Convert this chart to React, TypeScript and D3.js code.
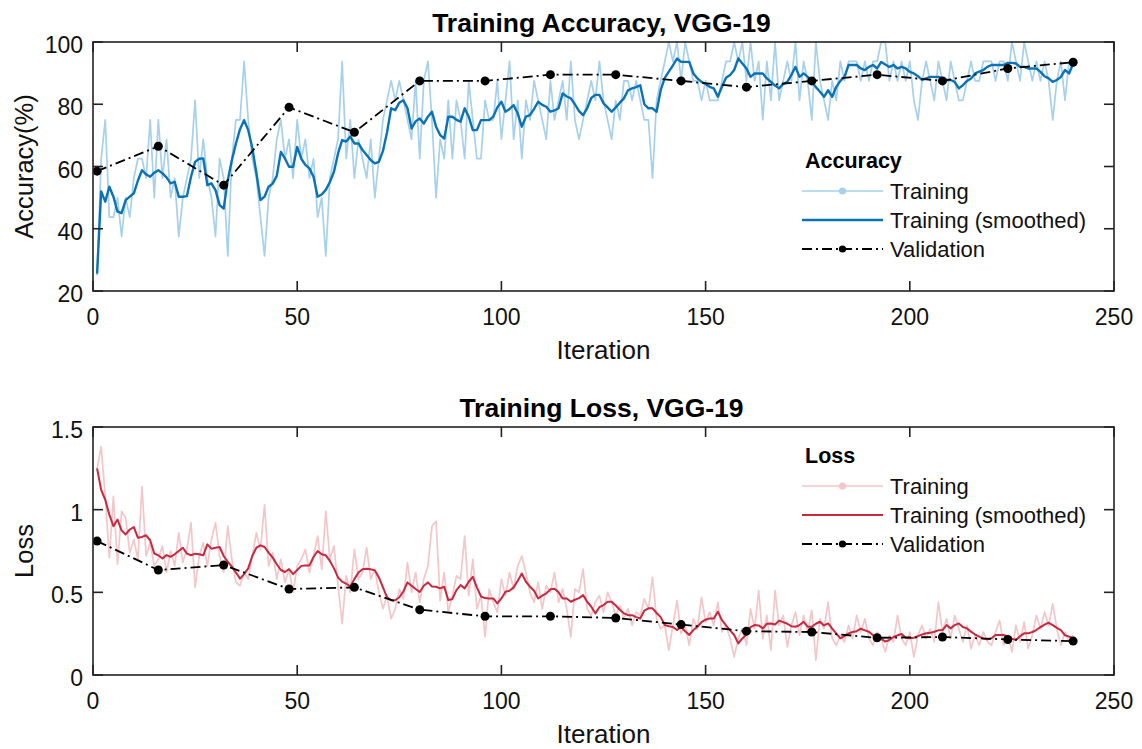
import React from "react";
import * as d3 from "d3";

// ---------- DATA ----------
const xTicks = [0, 50, 100, 150, 200, 250];
const accTicks = [20, 40, 60, 80, 100];
const lossTicks = [0, 0.5, 1, 1.5];
const lossTickLabels = ["0", "0.5", "1", "1.5"];

const validationIters = [1, 16, 32, 48, 64, 80, 96, 112, 128, 144, 160, 176, 192, 208, 224, 240];
const accValidation = [58.5, 66.5, 54, 79, 71, 87.5, 87.5, 89.5, 89.5, 87.5, 85.5, 87.5, 89.5, 87.5, 91.5, 93.5];
const lossValidation = [0.81, 0.635, 0.665, 0.52, 0.53, 0.395, 0.355, 0.355, 0.345, 0.305, 0.265, 0.26, 0.225, 0.23, 0.215, 0.205];

// training accuracy (raw), iterations 1..240
const accTraining = [
  25, 62.5, 75, 43.75, 43.75, 50, 37.5, 50, 43.75, 56.25,
  62.5, 62.5, 56.25, 75, 50, 75, 56.25, 68.75, 50, 56.25,
  37.5, 50, 56.25, 62.5, 81.25, 56.25, 68.75, 56.25, 50, 37.5,
  62.5, 56.25, 31.25, 62.5, 75, 75, 93.75, 75, 62.5, 56.25,
  43.75, 31.25, 50, 56.25, 68.75, 75, 62.5, 68.75, 56.25, 75,
  62.5, 68.75, 56.25, 62.5, 43.75, 50, 31.25, 56.25, 62.5, 68.75,
  93.75, 62.5, 75, 56.25, 68.75, 62.5, 56.25, 68.75, 50, 62.5,
  75, 81.25, 87.5, 81.25, 87.5, 81.25, 75, 68.75, 87.5, 62.5,
  87.5, 93.75, 75, 50, 68.75, 62.5, 81.25, 62.5, 81.25, 75,
  62.5, 87.5, 75, 62.5, 62.5, 81.25, 75, 75, 87.5, 68.75,
  81.25, 93.75, 68.75, 81.25, 62.5, 81.25, 75, 87.5, 81.25, 75,
  68.75, 87.5, 75, 81.25, 87.5, 75, 93.75, 75, 68.75, 75,
  81.25, 87.5, 81.25, 93.75, 81.25, 75, 68.75, 81.25, 75, 87.5,
  87.5, 81.25, 87.5, 81.25, 75, 75, 56.25, 81.25, 87.5, 93.75,
  100, 93.75, 100, 87.5, 100, 93.75, 87.5, 87.5, 81.25, 87.5,
  81.25, 81.25, 81.25, 87.5, 93.75, 93.75, 100, 93.75, 100, 87.5,
  100, 87.5, 93.75, 75, 93.75, 81.25, 100, 81.25, 87.5, 93.75,
  87.5, 100, 81.25, 93.75, 87.5, 75, 100, 87.5, 81.25, 75,
  87.5, 81.25, 93.75, 87.5, 93.75, 93.75, 93.75, 87.5, 93.75, 87.5,
  93.75, 93.75, 100, 100, 87.5, 93.75, 87.5, 93.75, 87.5, 93.75,
  81.25, 75, 87.5, 93.75, 87.5, 81.25, 93.75, 87.5, 81.25, 93.75,
  87.5, 81.25, 81.25, 87.5, 93.75, 87.5, 87.5, 93.75, 93.75, 93.75,
  87.5, 93.75, 93.75, 87.5, 100, 93.75, 87.5, 100, 93.75, 87.5,
  93.75, 87.5, 93.75, 87.5, 75, 87.5, 93.75, 81.25, 93.75, 93.75,
];

// training accuracy (smoothed), iterations 1..240
const accSmoothed = [
  25.6, 52, 48.7, 53.5, 50.3, 45.5, 45, 49.2, 50.3, 51.4,
  55.5, 58.8, 57.5, 56.7, 58, 58.8, 57.8, 56.5, 54.6, 55.1,
  50.3, 50.3, 50.5, 56.7, 61.5, 62.5, 62.6, 54, 54.6, 52.4,
  47.6, 46.5, 55.6, 62, 67.4, 72, 74.9, 71.7, 66, 58,
  49.2, 50.3, 53.5, 54.5, 57, 64.7, 62.6, 59.9, 59.9, 66.3,
  62.5, 60.5, 59.4, 56.7, 50.3, 51, 52.5, 55, 58.3, 64.2,
  68.5, 68, 69.6, 67.4, 67.4, 65.3, 63.7, 62.1, 61, 61.5,
  65, 71, 78.7, 78.1, 80.5, 81.3, 78.7, 72.2, 74.5, 75.4,
  73.8, 76, 77.6, 72.8, 70.1, 69, 76, 76, 75, 74.4,
  78.7, 76, 71.7, 71.7, 74.9, 74.9, 74.9, 76, 79, 80.8,
  77.6, 78.5, 79.7, 77, 72.8, 76, 76.5, 78.5, 80.8, 79.8,
  79.2, 77.6, 78, 78.7, 83.5, 82.5, 81.9, 80, 77.8, 76.5,
  78.7, 82, 83, 83, 80.3, 79, 77.6, 79, 80.5, 81.9,
  84.5, 85.1, 85.5, 86.1, 80, 78.7, 78.7, 77.6, 84.5, 88.5,
  90.5, 92.5, 94.7, 93.6, 93.6, 93.6, 89.9, 88.3, 87.2, 86.5,
  85.6, 85.1, 82.4, 85.6, 88.5, 89.4, 91, 94.7, 93.1, 91.5,
  88.8, 89.9, 89.9, 89.9, 88.3, 87.2, 86, 85.1, 86.5, 87.2,
  89.4, 92, 88.8, 89.9, 88.8, 87.2, 85.5, 84, 82.4, 84.5,
  82.4, 85.6, 87.5, 88.8, 92.6, 92.6, 92.6, 91.5, 91, 92,
  92.6, 91.5, 93.6, 92.8, 92, 92.6, 91.5, 92, 91.5, 90.4,
  89.9, 89, 87.8, 88.3, 88.8, 88.8, 88.8, 88.3, 87.8, 87.8,
  87.2, 85.1, 86.1, 87.5, 88.3, 89.9, 90.5, 91, 92, 92.6,
  92.6, 92.6, 92.6, 93.3, 93.3, 93.1, 92, 92, 91.5, 91.5,
  91.5, 90.4, 89, 88.3, 87.2, 87.8, 88.8, 91, 89.9, 93.1,
];

// training loss (raw), iterations 1..240
const lossTraining = [
  1.25, 1.38, 1.08, 0.71, 1.08, 0.67, 0.99, 0.95, 0.74, 0.82,
  0.7, 1.14, 0.72, 0.8, 0.66, 0.7, 0.78, 0.62, 0.75, 0.66,
  0.86, 0.68, 0.76, 0.92, 0.53, 0.72, 0.8, 0.66, 0.82, 0.92,
  0.72, 0.62, 0.9, 0.7, 0.56, 0.54, 0.62, 0.58, 0.72, 0.86,
  0.76, 1.03, 0.66, 0.74, 0.58, 0.7, 0.56, 0.64, 0.5, 0.66,
  0.7, 0.76, 0.62, 0.72, 0.84, 0.64, 0.99, 0.7, 0.78, 0.54,
  0.31, 0.6, 0.5, 0.76, 0.58, 0.62, 0.77, 0.58, 0.64, 0.5,
  0.4, 0.48, 0.34, 0.4, 0.52, 0.46, 0.68, 0.5, 0.62, 0.44,
  0.58, 0.66, 0.9, 0.93, 0.45, 0.62, 0.38, 0.48, 0.6, 0.58,
  0.84, 0.48, 0.7, 0.4, 0.48, 0.23, 0.52, 0.44, 0.38, 0.58,
  0.48, 0.62, 0.52, 0.66, 0.72, 0.62, 0.5, 0.44, 0.56, 0.4,
  0.54, 0.5, 0.62, 0.44, 0.52, 0.4, 0.23, 0.52, 0.5, 0.64,
  0.4, 0.36, 0.44, 0.48, 0.38, 0.5, 0.44, 0.36, 0.42, 0.34,
  0.4, 0.3, 0.38, 0.36, 0.46, 0.4, 0.59, 0.34, 0.28, 0.3,
  0.15, 0.3, 0.45, 0.25, 0.3, 0.18, 0.34, 0.28, 0.47, 0.32,
  0.38, 0.3, 0.44, 0.26, 0.3, 0.22, 0.11, 0.22, 0.28, 0.18,
  0.4, 0.28, 0.51, 0.22, 0.36, 0.15, 0.51, 0.3, 0.36, 0.17,
  0.3, 0.38, 0.24, 0.36, 0.26, 0.39, 0.09, 0.34, 0.28, 0.44,
  0.22, 0.18, 0.24, 0.2, 0.3, 0.22, 0.36, 0.26, 0.34, 0.22,
  0.18, 0.26, 0.22, 0.14, 0.24, 0.2, 0.36, 0.22, 0.18, 0.26,
  0.11, 0.24, 0.3, 0.22, 0.28, 0.2, 0.44, 0.26, 0.34, 0.22,
  0.36, 0.28, 0.2, 0.3, 0.16, 0.24, 0.18, 0.26, 0.2, 0.18,
  0.26, 0.33, 0.18, 0.24, 0.14, 0.3, 0.2, 0.32, 0.16, 0.24,
  0.36, 0.28, 0.38, 0.3, 0.43, 0.28, 0.18, 0.26, 0.2, 0.24,
];

// training loss (smoothed), iterations 1..240
const lossSmoothed = [
  1.25, 1.12, 1.06, 0.97, 0.9, 0.94, 0.875, 0.85, 0.88, 0.895,
  0.83, 0.835, 0.845, 0.815, 0.735, 0.724, 0.705, 0.725, 0.715, 0.73,
  0.75, 0.77, 0.734, 0.724, 0.734, 0.73, 0.724, 0.79, 0.764, 0.77,
  0.774, 0.72, 0.685, 0.655, 0.62, 0.583, 0.61, 0.645, 0.72, 0.77,
  0.784, 0.774, 0.74, 0.71, 0.67, 0.635, 0.623, 0.64, 0.61, 0.635,
  0.66, 0.663, 0.663, 0.714, 0.75, 0.73, 0.724, 0.69, 0.645, 0.59,
  0.565, 0.552, 0.535, 0.58, 0.62, 0.64, 0.643, 0.64, 0.633, 0.59,
  0.53, 0.47, 0.452, 0.452, 0.47, 0.505, 0.56, 0.54, 0.52, 0.502,
  0.54, 0.56, 0.535, 0.534, 0.524, 0.534, 0.453, 0.46, 0.514, 0.544,
  0.524, 0.564, 0.594, 0.53, 0.475, 0.465, 0.463, 0.463, 0.433, 0.463,
  0.504, 0.51, 0.53, 0.57, 0.614, 0.564, 0.534, 0.51, 0.463, 0.48,
  0.494, 0.518, 0.522, 0.5, 0.463, 0.463, 0.443, 0.455, 0.465, 0.483,
  0.443, 0.413, 0.373, 0.41, 0.423, 0.443, 0.443, 0.42, 0.395, 0.373,
  0.362, 0.362, 0.35, 0.342, 0.39, 0.403, 0.403, 0.375, 0.35, 0.302,
  0.295, 0.29, 0.272, 0.29, 0.265, 0.242, 0.272, 0.292, 0.32, 0.335,
  0.342, 0.342, 0.383, 0.332, 0.3, 0.27, 0.242, 0.191, 0.221, 0.245,
  0.29, 0.302, 0.3, 0.282, 0.31, 0.312, 0.305, 0.329, 0.32, 0.31,
  0.295, 0.292, 0.302, 0.322, 0.292, 0.292, 0.31, 0.322, 0.3, 0.312,
  0.28, 0.25, 0.222, 0.235, 0.252, 0.26, 0.265, 0.28, 0.27, 0.262,
  0.24, 0.228, 0.22, 0.202, 0.212, 0.23, 0.24, 0.248, 0.225, 0.222,
  0.225, 0.235, 0.245, 0.252, 0.255, 0.262, 0.27, 0.272, 0.302, 0.282,
  0.302, 0.312, 0.29, 0.282, 0.262, 0.245, 0.232, 0.22, 0.216, 0.222,
  0.242, 0.242, 0.242, 0.232, 0.22, 0.212, 0.235, 0.252, 0.252, 0.26,
  0.272, 0.29, 0.305, 0.316, 0.302, 0.285, 0.272, 0.24, 0.232, 0.222,
];

const legendLabels = ["Training", "Training (smoothed)", "Validation"];

// ---------- STYLE ----------
const FONT = "'Liberation Sans', Arial, Helvetica, sans-serif";
const AXIS_COLOR = "#222";
const VAL_DASH = "10,4,2,4";

type PanelProps = {
  top: number;
  bottom: number;
  left: number;
  right: number;
  yDomain: [number, number];
  yTicks: number[];
  yTickLabels: string[];
  title: string;
  yLabel: string;
  legendTitle: string;
  legendTop: number;
  raw: number[];
  smooth: number[];
  val: number[];
  rawColor: string;
  smoothColor: string;
  smoothWidth: number;
  clipId: string;
};

function Panel(p: PanelProps) {
  const x = d3.scaleLinear().domain([0, 250]).range([p.left, p.right]);
  const y = d3.scaleLinear().domain(p.yDomain).range([p.bottom, p.top]);
  const line = d3
    .line<number>()
    .x((_, i) => x(i + 1))
    .y((d) => y(d));
  const valLine = d3
    .line<number>()
    .x((_, i) => x(validationIters[i]))
    .y((d) => y(d));
  const tickLen = 10;
  const midY = (p.top + p.bottom) / 2;
  const lgX0 = 802;
  const lgX1 = 883;
  const lgTx = 890;
  const rows = [p.legendTop + 31, p.legendTop + 60, p.legendTop + 89];

  return (
    <g>
      <defs>
        <clipPath id={p.clipId}>
          <rect x={p.left} y={p.top - 1} width={p.right - p.left} height={p.bottom - p.top + 2} />
        </clipPath>
      </defs>
      <g clipPath={`url(#${p.clipId})`}>
        <path d={line(p.raw) || ""} fill="none" stroke={p.rawColor} strokeWidth={1.7} strokeLinejoin="round" />
        <path d={line(p.smooth) || ""} fill="none" stroke={p.smoothColor} strokeWidth={p.smoothWidth} strokeLinejoin="round" />
        <path d={valLine(p.val) || ""} fill="none" stroke="#000" strokeWidth={1.8} strokeDasharray={VAL_DASH} />
        {p.val.map((v, i) => (
          <circle key={i} cx={x(validationIters[i])} cy={y(v)} r={4.5} fill="#000" />
        ))}
      </g>
      <rect x={p.left} y={p.top} width={p.right - p.left} height={p.bottom - p.top} fill="none" stroke={AXIS_COLOR} strokeWidth={1.6} />
      {xTicks.map((t) => (
        <g key={"x" + t}>
          <line x1={x(t)} x2={x(t)} y1={p.bottom} y2={p.bottom - tickLen} stroke={AXIS_COLOR} strokeWidth={1.6} />
          <line x1={x(t)} x2={x(t)} y1={p.top} y2={p.top + tickLen} stroke={AXIS_COLOR} strokeWidth={1.6} />
          <text x={x(t)} y={p.bottom + 34} textAnchor="middle" fontSize={23} fontFamily={FONT} fill="#111">
            {t}
          </text>
        </g>
      ))}
      {p.yTicks.map((t, i) => (
        <g key={"y" + t}>
          <line x1={p.left} x2={p.left + tickLen} y1={y(t)} y2={y(t)} stroke={AXIS_COLOR} strokeWidth={1.6} />
          <line x1={p.right} x2={p.right - tickLen} y1={y(t)} y2={y(t)} stroke={AXIS_COLOR} strokeWidth={1.6} />
          <text x={p.left - 10} y={y(t) + 11} textAnchor="end" fontSize={23} fontFamily={FONT} fill="#111">
            {p.yTickLabels[i]}
          </text>
        </g>
      ))}
      <text x={(p.left + p.right) / 2} y={p.bottom + 68} textAnchor="middle" fontSize={26} fontFamily={FONT} fill="#111">
        Iteration
      </text>
      <text
        transform={`translate(${33},${midY}) rotate(-90)`}
        textAnchor="middle"
        fontSize={25.5}
        fontFamily={FONT}
        fill="#111"
      >
        {p.yLabel}
      </text>
      <text x={(p.left + p.right) / 2 - 2} y={p.top - 10} textAnchor="middle" fontSize={26.5} fontWeight="bold" fontFamily={FONT} fill="#000">
        {p.title}
      </text>
      <text x={lgX0 + 3} y={p.legendTop} fontSize={21.5} fontWeight="bold" fontFamily={FONT} fill="#000">
        {p.legendTitle}
      </text>
      <line x1={lgX0} x2={lgX1} y1={rows[0] - 8} y2={rows[0] - 8} stroke={p.rawColor} strokeWidth={1.7} />
      <circle cx={(lgX0 + lgX1) / 2} cy={rows[0] - 8} r={3.6} fill={p.rawColor} />
      <line x1={lgX0} x2={lgX1} y1={rows[1] - 8} y2={rows[1] - 8} stroke={p.smoothColor} strokeWidth={p.smoothWidth} />
      <line x1={lgX0} x2={lgX1} y1={rows[2] - 8} y2={rows[2] - 8} stroke="#000" strokeWidth={1.8} strokeDasharray={VAL_DASH} />
      <circle cx={(lgX0 + lgX1) / 2} cy={rows[2] - 8} r={3.6} fill="#000" />
      {legendLabels.map((l, i) => (
        <text key={l} x={lgTx} y={rows[i]} fontSize={22} fontFamily={FONT} fill="#111">
          {l}
        </text>
      ))}
    </g>
  );
}

export default function App() {
  return (
    <svg
      width={1142}
      height={749}
      style={{ position: "absolute", left: 0, top: 0, display: "block", background: "#fff" }}
    >
      <rect width={1142} height={749} fill="#fff" />
      <Panel
        top={42}
        bottom={291}
        left={93}
        right={1114}
        yDomain={[20, 100]}
        yTicks={accTicks}
        yTickLabels={accTicks.map(String)}
        title="Training Accuracy, VGG-19"
        yLabel="Accuracy(%)"
        legendTitle="Accuracy"
        legendTop={168}
        raw={accTraining}
        smooth={accSmoothed}
        val={accValidation}
        rawColor="#a6d0ec"
        smoothColor="#0a72b6"
        smoothWidth={2.4}
        clipId="clipAcc"
      />
      <Panel
        top={427}
        bottom={675}
        left={93}
        right={1114}
        yDomain={[0, 1.5]}
        yTicks={lossTicks}
        yTickLabels={lossTickLabels}
        title="Training Loss, VGG-19"
        yLabel="Loss"
        legendTop={463}
        legendTitle="Loss"
        raw={lossTraining}
        smooth={lossSmoothed}
        val={lossValidation}
        rawColor="#f3c6c9"
        smoothColor="#c9283f"
        smoothWidth={2}
        clipId="clipLoss"
      />
    </svg>
  );
}
